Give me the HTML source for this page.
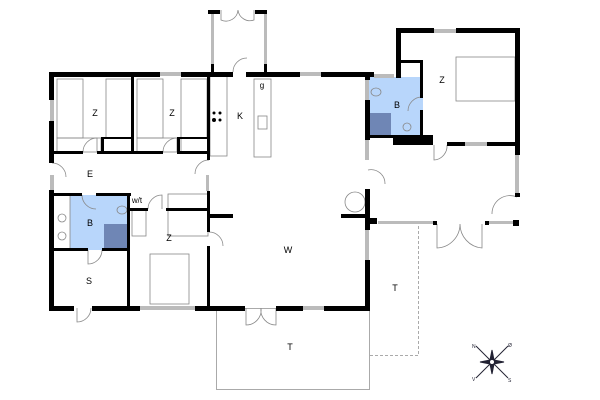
<!DOCTYPE html>
<html><head><meta charset="utf-8"><style>
html,body{margin:0;padding:0;background:#fff;}
svg{display:block;font-family:"Liberation Sans",sans-serif;}
</style></head><body>
<svg width="600" height="400" viewBox="0 0 600 400" xmlns="http://www.w3.org/2000/svg">
<rect width="600" height="400" fill="#fff"/>
<!-- terraces -->
<rect x="216.5" y="308.5" width="153" height="81" fill="none" stroke="#aaa" stroke-width="1"/>
<path d="M370 355.5 H418.5 V222" fill="none" stroke="#aaa" stroke-width="1" stroke-dasharray="3,2"/>
<!-- blue bathrooms -->
<rect x="70" y="195" width="59" height="55" fill="#b8d6fb"/>
<rect x="104" y="224" width="25" height="25" fill="#6f86b5"/>
<rect x="368" y="77" width="55" height="59" fill="#b8d6fb"/>
<rect x="370" y="113" width="21" height="22" fill="#6f86b5"/>
<!-- furniture thin lines -->
<g fill="none" stroke="#888" stroke-width="0.8">
<rect x="57" y="79" width="26" height="59"/><rect x="106" y="79" width="26" height="59"/>
<rect x="137" y="79" width="26" height="59"/><rect x="181" y="79" width="26" height="59"/>
<rect x="57" y="138" width="44" height="14"/><rect x="103" y="138" width="30" height="14"/>
<rect x="137" y="138" width="44" height="14"/><rect x="178" y="138" width="30" height="14"/>
<rect x="210" y="76" width="17" height="80"/><rect x="254" y="79" width="17" height="78"/>
<rect x="258" y="116" width="9" height="13"/>
<rect x="168" y="194" width="40" height="16"/><rect x="168" y="210" width="40" height="26"/>
<rect x="132" y="210" width="14" height="26"/>
<rect x="150" y="254" width="39" height="50"/>
<rect x="456" y="57" width="59" height="44"/>
<circle cx="355" cy="202" r="10"/>
<rect x="53" y="195" width="17" height="54"/>
<circle cx="62" cy="218" r="4"/><circle cx="62" cy="236" r="4"/>
<circle cx="407" cy="127" r="4"/>
<ellipse cx="122" cy="210" rx="5" ry="4"/><ellipse cx="376" cy="92" rx="5" ry="4"/>
<!-- door arcs -->
<path d="M83 152 A14 14 0 0 1 97 138 V152"/><path d="M163 152 A14 14 0 0 1 177 138 V152"/>
<path d="M52 163 A14 14 0 0 1 66 177"/><path d="M209 160 A14 14 0 0 0 195 174"/>
<path d="M148 209 A14 14 0 0 1 162 195 V209"/><path d="M209 232 A14 14 0 0 1 223 246"/>
<path d="M82 195 A14 14 0 0 0 96 209"/><path d="M88 250 V264 A14 14 0 0 0 102 250"/>
<path d="M422 97 A14 14 0 0 0 408 111"/><path d="M434 145 V160 A14 14 0 0 0 447 145"/>
<path d="M368 170 A14 14 0 0 1 385 184"/><path d="M517 197 A18 18 0 0 0 492 214"/>
<path d="M233 72 A14 14 0 0 1 247 58"/>
<path d="M221 10 V20 A12 12 0 0 0 238 10 M254 10 V20 A12 12 0 0 1 238 10"/>
<path d="M437 224 V248 A24 24 0 0 0 460 224 M482 224 V248 A24 24 0 0 1 460 224"/>
<path d="M246 308 V325 A15 15 0 0 0 261 308 M276 308 V325 A15 15 0 0 1 261 308"/>
<path d="M77 308 V322 A14 14 0 0 0 91 308"/>
</g>
<g fill="#000"><circle cx="214" cy="113" r="1.5"/><circle cx="220" cy="113" r="1.5"/><circle cx="214" cy="120" r="2"/><circle cx="220" cy="120" r="1.5"/></g>
<!-- windows -->
<g fill="#bbb">
<rect x="160" y="72" width="21" height="4"/><rect x="300" y="72" width="21" height="4"/>
<rect x="50" y="100" width="4" height="21"/><rect x="50" y="175" width="4" height="15"/>
<rect x="365" y="80" width="4" height="20"/><rect x="365" y="140" width="4" height="20"/>
<rect x="365" y="230" width="4" height="30"/>
<rect x="140" y="306" width="55" height="4"/><rect x="303" y="306" width="21" height="4"/>
<rect x="211" y="14" width="3" height="50"/><rect x="264" y="14" width="3" height="50"/>
<rect x="434" y="29" width="22" height="4"/><rect x="465" y="142" width="22" height="4"/>
<rect x="378" y="221" width="55" height="3"/><rect x="489" y="221" width="24" height="3"/>
<rect x="515" y="155" width="4" height="38"/><rect x="206" y="175" width="3" height="16"/>
<rect x="374" y="74" width="20" height="4"/>
</g>
<!-- walls -->
<g fill="#000">
<rect x="49" y="72" width="111" height="5"/><rect x="181" y="72" width="52" height="5"/>
<rect x="246" y="72" width="54" height="5"/><rect x="321" y="72" width="53" height="5"/>
<rect x="49" y="72" width="5" height="28"/><rect x="49" y="121" width="5" height="42"/>
<rect x="49" y="190" width="5" height="120"/>
<rect x="49" y="306" width="25" height="5"/><rect x="92" y="306" width="48" height="5"/>
<rect x="195" y="306" width="50" height="5"/><rect x="276" y="306" width="27" height="5"/>
<rect x="324" y="306" width="46" height="5"/>
<rect x="365" y="260" width="5" height="51"/><rect x="365" y="189" width="5" height="41"/>
<rect x="365" y="72" width="5" height="8"/><rect x="365" y="100" width="5" height="40"/>
<rect x="365" y="218" width="12" height="6"/>
<rect x="433" y="221" width="4" height="4"/><rect x="485" y="221" width="4" height="4"/>
<rect x="513" y="220" width="6" height="6"/>
<rect x="515" y="28" width="5" height="127"/><rect x="515" y="193" width="5" height="4"/>
<rect x="396" y="28" width="38" height="5"/><rect x="456" y="28" width="64" height="5"/>
<rect x="396" y="28" width="5" height="50"/><rect x="401" y="60" width="22" height="3"/>
<rect x="420" y="60" width="3" height="38"/><rect x="420" y="110" width="3" height="35"/>
<rect x="365" y="135" width="58" height="3"/><rect x="393" y="135" width="40" height="10"/>
<rect x="447" y="142" width="18" height="4"/><rect x="487" y="142" width="30" height="4"/>
<rect x="341" y="214" width="28" height="4"/>
<rect x="207" y="72" width="3" height="88"/><rect x="207" y="191" width="3" height="41"/>
<rect x="207" y="246" width="3" height="62"/><rect x="207" y="214" width="26" height="4"/>
<rect x="131" y="76" width="3" height="77"/>
<rect x="52" y="151" width="31" height="3"/><rect x="97" y="151" width="36" height="3"/>
<rect x="131" y="151" width="32" height="3"/><rect x="177" y="151" width="31" height="3"/>
<rect x="101" y="137" width="3" height="16"/><rect x="101" y="137" width="32" height="2"/>
<rect x="177" y="137" width="3" height="16"/><rect x="177" y="137" width="31" height="2"/>
<rect x="52" y="193" width="30" height="3"/><rect x="96" y="193" width="35" height="3"/>
<rect x="127" y="193" width="3" height="115"/>
<rect x="52" y="248" width="36" height="3"/><rect x="102" y="248" width="27" height="3"/>
<rect x="129" y="208" width="19" height="3"/><rect x="166" y="208" width="42" height="3"/>
<rect x="208" y="10" width="12" height="4"/><rect x="255" y="10" width="12" height="4"/>
<rect x="211" y="64" width="3" height="10"/><rect x="264" y="64" width="3" height="10"/>
</g>
<!-- labels -->
<g font-size="9" fill="#000" text-anchor="middle">
<text x="95" y="116">Z</text><text x="172" y="116">Z</text><text x="240" y="119">K</text>
<text x="262" y="88" font-size="8">g</text><text x="90" y="177">E</text>
<text x="90" y="226">B</text><text x="137" y="203" font-size="8">w/t</text>
<text x="169" y="241">Z</text><text x="89" y="284">S</text><text x="288" y="253">W</text>
<text x="397" y="108">B</text><text x="442" y="83">Z</text>
<text x="395" y="291">T</text><text x="290" y="350">T</text>
</g>
<!-- compass -->
<g stroke="#223" fill="#223">
<line x1="476" y1="346" x2="508" y2="378" stroke-width="1"/><line x1="508" y1="346" x2="476" y2="378" stroke-width="1"/>
<polygon points="492,350 494,360 492,366 490,360"/><polygon points="492,374 494,364 492,358 490,364"/>
<polygon points="480,362 490,360 496,362 490,364"/><polygon points="504,362 494,364 488,362 494,360"/>
<circle cx="492" cy="362" r="2.5" fill="#fff"/>
</g>
<g font-size="5" fill="#223"><text x="472" y="348">N</text><text x="508" y="347">Ø</text><text x="472" y="381">V</text><text x="508" y="382">S</text></g>
</svg>
</body></html>
